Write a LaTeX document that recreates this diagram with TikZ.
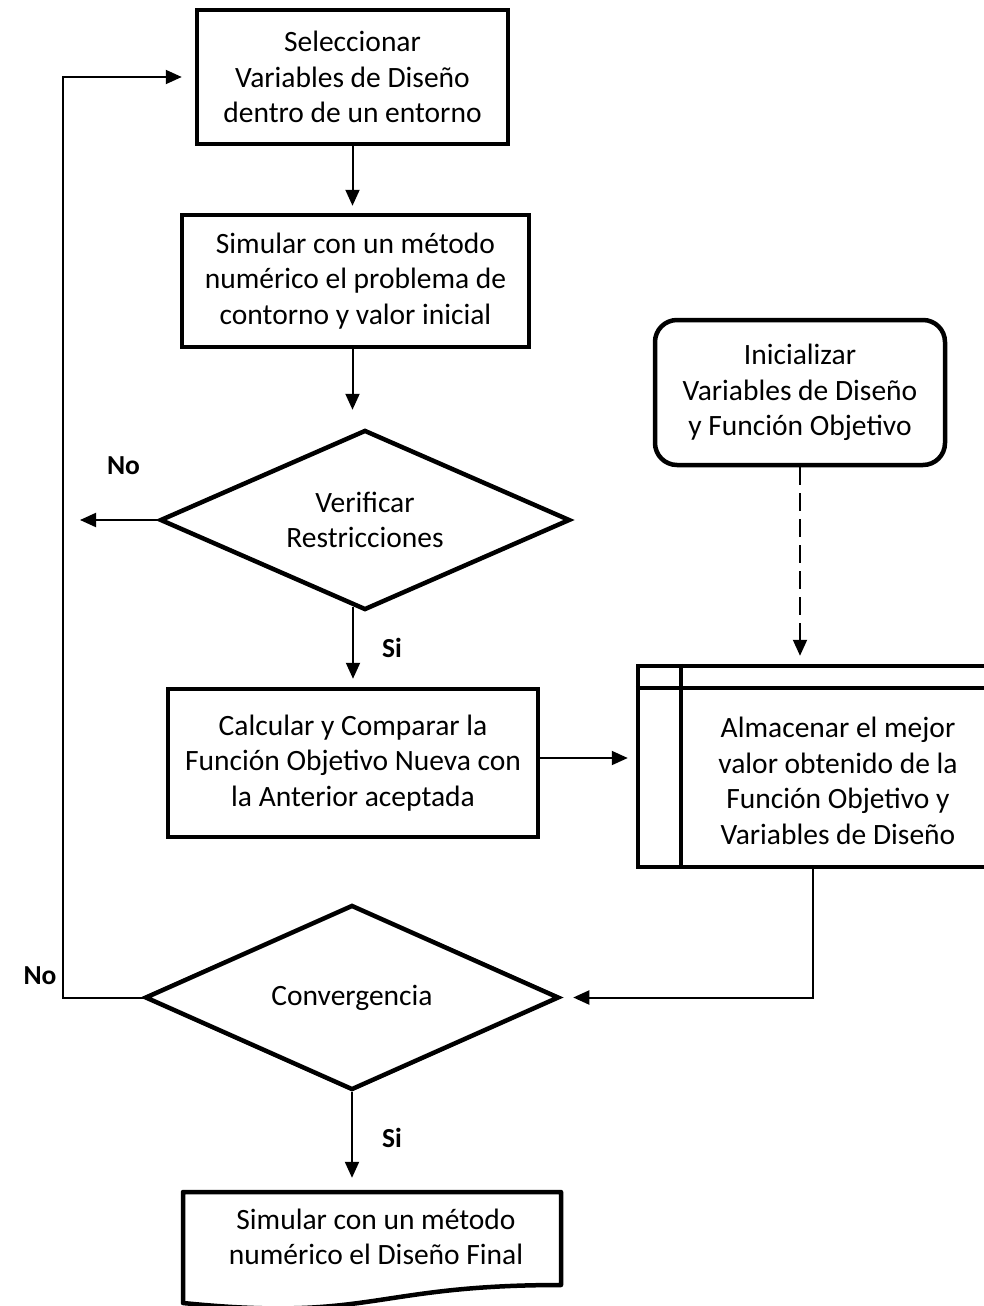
\documentclass[tikz,border=0pt]{standalone}
\usepackage{fontspec}
\setmainfont{Carlito}
\usetikzlibrary{shapes.geometric,arrows.meta}

\begin{document}
\begin{tikzpicture}[x=1pt,y=-1pt,
  every node/.style={font=\fontsize{29.5}{35.5}\selectfont, align=center, inner sep=0pt},
  proc/.style={draw, line width=4.5pt, rectangle},
  term/.style={draw, line width=4.5pt, rounded corners=22pt},
  dec/.style={draw, line width=4.5pt, diamond, aspect=2.3},
  conn/.style={line width=2pt, -{Triangle[length=16pt,width=14pt]}},
  lbl/.style={font=\bfseries\fontsize{27.5}{32}\selectfont}]

\useasboundingbox (0,0) rectangle (983,1306);

% process boxes
\node[proc, minimum width=311, minimum height=134] (sel) at (352.5,77)
  {Seleccionar\\Variables de Diseño\\dentro de un entorno};
\node[proc, minimum width=347, minimum height=132] (sim) at (355.5,281)
  {Simular con un método\\numérico el problema de\\contorno y valor inicial};
\node[dec, minimum width=410, minimum height=180] (ver) at (365,520)
  {Verificar\\Restricciones};
\node[proc, minimum width=370, minimum height=148] (calc) at (353,763)
  {Calcular y Comparar la\\Función Objetivo Nueva con\\la Anterior aceptada};
\node[term, minimum width=290, minimum height=145] (init) at (800,392.5)
  {Inicializar\\Variables de Diseño\\y Función Objetivo};

% stored data box (internal storage)
\node[proc, minimum width=356, minimum height=201] (stor) at (816,766.5) {};
\draw[line width=4.5pt] (stor.north west) ++(45,0) -- ++(0,201);
\draw[line width=4.5pt] (stor.north west) ++(0,24) -- ++(356,0);
\node (stortxt) at (838,781)
  {Almacenar el mejor\\valor obtenido de la\\Función Objetivo y\\Variables de Diseño};

\node[dec, minimum width=414, minimum height=185] (conv) at (352,997.5) {Convergencia};

% final document shape
\node[minimum width=378, minimum height=100] (fin) at (376,1237)
  {Simular con un método\\numérico el Diseño Final};
\draw[line width=4.5pt, line join=round]
  (183,1192) -- (561,1192) -- (561,1285)
  .. controls (372,1285) and (372,1322) .. (183,1303) -- cycle;

% labels
\node[lbl] (no1) at (123.5,466) {No};
\node[lbl] (si1) at (392,648) {Si};
\node[lbl] (no2) at (40,976) {No};
\node[lbl] (si2) at (392,1138) {Si};

% helper points
\coordinate (loopTop) at (63,77);
\coordinate (noTip) at (80,520);
\path (ver.south) ++(-12,-5) coordinate (verS);

% connectors
\draw[conn, shorten >=7pt] (sel.south) -- (sel.south |- sim.north);
\draw[conn, shorten >=18pt] (sim.south -| sel.south) -- (sel.south |- ver.north);
\draw[conn] (ver.west) -- (noTip);
\draw[conn, shorten >=8pt] (verS) -- (verS |- calc.north);
\draw[conn, shorten >=8pt] ([yshift=5pt]calc.east) -- ([yshift=5pt]calc.east -| stor.west);
\draw[conn, dash pattern=on 18pt off 8pt, shorten >=8pt] (init.south) -- (init.south |- stor.north);
\draw[conn, shorten >=12pt] ([xshift=-3pt]stor.south) |- (conv.east);
\draw[conn, shorten >=9pt] (conv.south) -- (conv.south |- fin.north);
\draw[conn, shorten >=13pt] (conv.west) -| (loopTop) -- (sel.west);

\end{tikzpicture}
\end{document}
